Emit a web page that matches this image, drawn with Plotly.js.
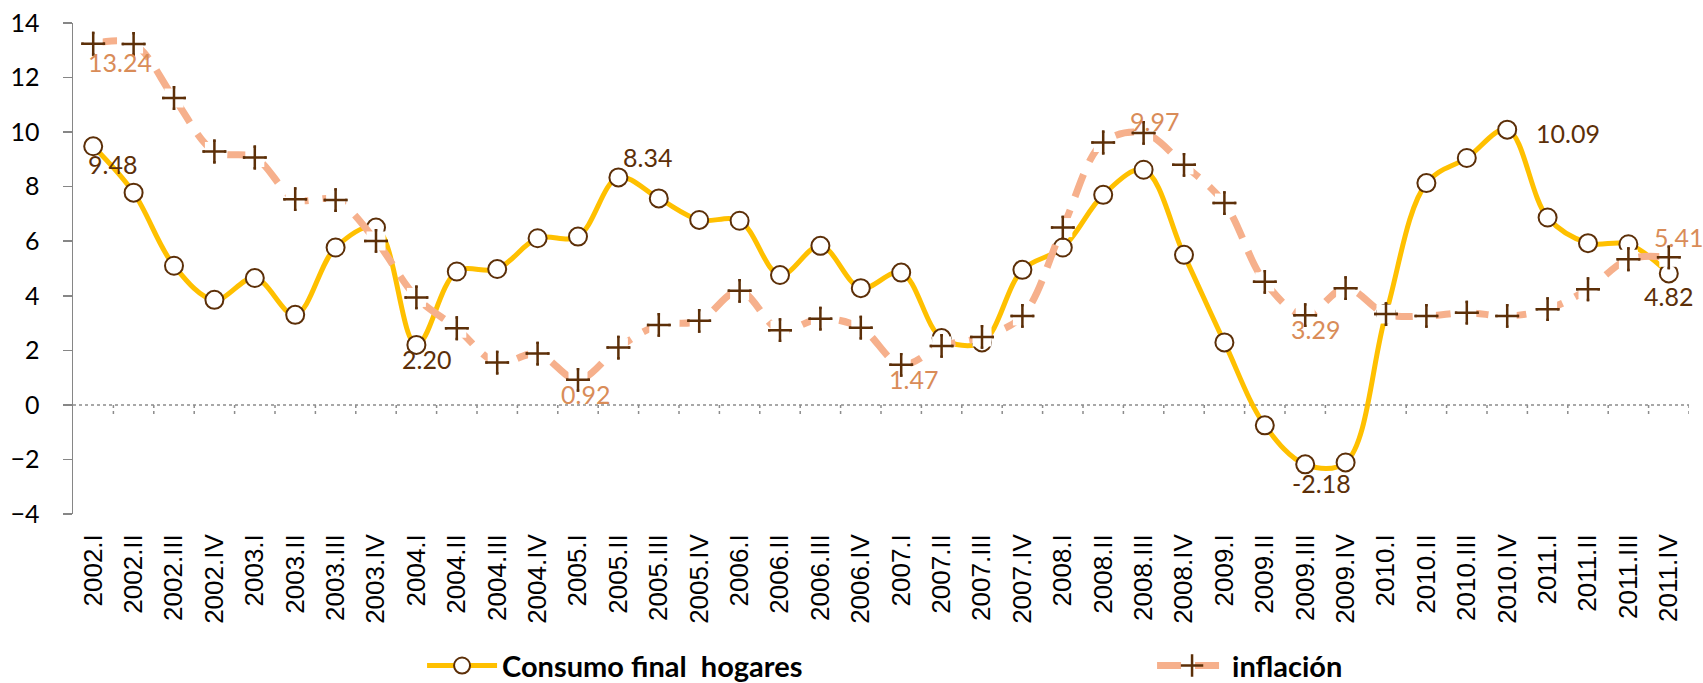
<!DOCTYPE html>
<html>
<head>
<meta charset="utf-8">
<script src="https://cdn.plot.ly/plotly-3.0.1.min.js"></script>
<style>
    html, body { margin: 0; padding: 0; background: #ffffff; }
    #chart { width: 1703px; height: 683px; }
</style>
</head>
<body>
<div id="chart"></div>
<script>
// quarters on the x axis
var quarters = [
    '2002.I', '2002.II', '2002.III', '2002.IV',
    '2003.I', '2003.II', '2003.III', '2003.IV',
    '2004.I', '2004.II', '2004.III', '2004.IV',
    '2005.I', '2005.II', '2005.III', '2005.IV',
    '2006.I', '2006.II', '2006.III', '2006.IV',
    '2007.I', '2007.II', '2007.III', '2007.IV',
    '2008.I', '2008.II', '2008.III', '2008.IV',
    '2009.I', '2009.II', '2009.III', '2009.IV',
    '2010.I', '2010.II', '2010.III', '2010.IV',
    '2011.I', '2011.II', '2011.III', '2011.IV'
];

var consumo = [
    9.48, 7.78, 5.10, 3.85,
    4.65, 3.30, 5.77, 6.50,
    2.20, 4.89, 4.98, 6.11,
    6.17, 8.34, 7.57, 6.78,
    6.75, 4.76, 5.83, 4.28,
    4.85, 2.45, 2.29, 4.95,
    5.77, 7.70, 8.62, 5.50,
    2.29, -0.75, -2.18, -2.11,
    3.35, 8.13, 9.05, 10.09,
    6.87, 5.93, 5.89, 4.82
];

var inflacion = [
    13.24, 13.23, 11.25, 9.29,
    9.07, 7.54, 7.51, 6.01,
    3.94, 2.81, 1.55, 1.88,
    0.92, 2.10, 2.93, 3.08,
    4.18, 2.74, 3.16, 2.83,
    1.47, 2.16, 2.49, 3.26,
    6.50, 9.62, 9.97, 8.80,
    7.40, 4.51, 3.29, 4.28,
    3.33, 3.26, 3.38, 3.26,
    3.51, 4.24, 5.34, 5.41
];

// which points carry a value label
var consumoLabelIdx = [0, 8, 13, 30, 35, 39];
var inflacionLabelIdx = [0, 12, 20, 26, 30, 39];

var yTicks = [-4, -2, 0, 2, 4, 6, 8, 10, 12, 14];

// label offsets in px [xshift, yshift]
var consumoLabelShift = [[19, -18], [10, -14], [29, 20], [16, -19], [61, -3], [0, -23]];
var inflacionLabelShift = [[27, -18], [7, -14], [12, -14], [11, 12], [10, -14], [10, 20]];

var brown = '#5c2f08';
var gold = '#ffc000';
var peach = '#f6b08c';
var peachText = '#d98c58';

var traceConsumo = {
    x: quarters,
    y: consumo,
    name: 'Consumo final\u00a0 hogares',
    mode: 'lines+markers',
    line: {color: gold, width: 5, shape: 'spline', smoothing: 1},
    marker: {symbol: 'circle', size: 18, color: '#ffffff', line: {color: brown, width: 2}},
    cliponaxis: false,
    hoverinfo: 'skip'
};

var traceInflacion = {
    x: quarters,
    y: inflacion,
    name: 'inflación',
    mode: 'lines+markers',
    line: {color: peach, width: 7, shape: 'spline', smoothing: 1, dash: '24px,14px'},
    marker: {symbol: 'cross-thin', size: 17, color: brown, line: {color: brown, width: 2.5}},
    cliponaxis: false,
    hoverinfo: 'skip'
};

// white boxes behind the crosses, as in the original
var traceBoxes = {
    x: quarters,
    y: inflacion,
    mode: 'markers',
    showlegend: false,
    marker: {symbol: 'square', size: 19, color: '#ffffff'},
    cliponaxis: false,
    hoverinfo: 'skip'
};

var traceCrosses = {
    x: quarters,
    y: inflacion,
    mode: 'markers',
    showlegend: false,
    marker: {symbol: 'cross-thin', size: 17, color: brown, line: {color: brown, width: 2.5}},
    cliponaxis: false,
    hoverinfo: 'skip'
};

var annotations = [];
consumoLabelIdx.forEach(function(idx, k) {
    annotations.push({
        x: quarters[idx], y: consumo[idx], xref: 'x', yref: 'y',
        text: consumo[idx].toFixed(2), showarrow: false,
        xshift: consumoLabelShift[k][0], yshift: consumoLabelShift[k][1],
        font: {family: 'Lato, sans-serif', size: 25, color: brown}
    });
});
inflacionLabelIdx.forEach(function(idx, k) {
    annotations.push({
        x: quarters[idx], y: inflacion[idx], xref: 'x', yref: 'y',
        text: inflacion[idx].toFixed(2), showarrow: false,
        xshift: inflacionLabelShift[k][0], yshift: inflacionLabelShift[k][1],
        font: {family: 'Lato, sans-serif', size: 25, color: peachText}
    });
});

// dotted zero axis with dotted category ticks
var shapes = [{
    type: 'line', xref: 'paper', yref: 'y',
    x0: 0, x1: 1, y0: 0, y1: 0,
    line: {color: '#8c8c8c', width: 1.5, dash: 'dot'},
    layer: 'below'
}];
for (let i = 1; i <= quarters.length; i++) {
    shapes.push({
        type: 'line', xref: 'x', yref: 'y',
        x0: i - 0.5, x1: i - 0.5, y0: 0, y1: -0.38,
        line: {color: '#8c8c8c', width: 1.5, dash: 'dot'},
        layer: 'below'
    });
}

var layout = {
    width: 1703,
    height: 683,
    paper_bgcolor: '#ffffff',
    plot_bgcolor: '#ffffff',
    margin: {l: 73, r: 14, t: 23, b: 169, autoexpand: false},
    showlegend: true,
    legend: {
        orientation: 'h',
        x: 0.216, xanchor: 'left',
        y: -0.309, yanchor: 'middle',
        itemwidth: 70,
        entrywidth: 645,
        entrywidthmode: 'pixels',
        font: {family: 'Lato, sans-serif', size: 29, color: '#000000', weight: 'bold'},
        bgcolor: 'rgba(0,0,0,0)'
    },
    xaxis: {
        type: 'category',
        range: [-0.5, quarters.length - 0.5],
        showgrid: false,
        zeroline: false,
        showline: false,
        ticks: '',
        tickangle: -90,
        ticklabelstandoff: 14,
        tickfont: {family: '"Liberation Sans", Arial, sans-serif', size: 26, color: '#000000'}
    },
    yaxis: {
        range: [-4, 14],
        tickvals: yTicks,
        showgrid: false,
        zeroline: false,
        showline: true,
        linecolor: '#868686',
        linewidth: 1.5,
        ticks: 'outside',
        ticklen: 9,
        tickwidth: 1.5,
        tickcolor: '#868686',
        ticklabelstandoff: 18,
        tickfont: {family: 'Lato, sans-serif', size: 25, color: '#000000'}
    },
    shapes: shapes,
    annotations: annotations
};

Plotly.newPlot('chart', [traceConsumo, traceInflacion, traceBoxes, traceCrosses], layout, {staticPlot: true});
</script>
</body>
</html>
